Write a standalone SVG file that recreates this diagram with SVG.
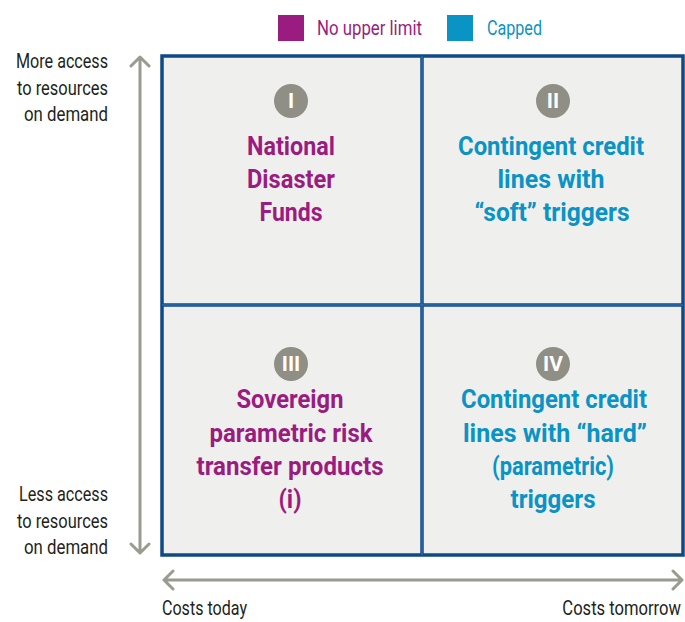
<svg xmlns="http://www.w3.org/2000/svg" width="685" height="622" viewBox="0 0 685 622">
<style>
.lbl{font-family:Roboto,"Liberation Sans",sans-serif;font-size:20px;fill:#231f20}
.leg{font-family:Roboto,"Liberation Sans",sans-serif;font-size:21px}
.q{font-family:Roboto,"Liberation Sans",sans-serif;font-size:25px;font-weight:bold;text-anchor:middle}
.p{fill:#9b1c80}
.b{fill:#0a93c5}
.num{font-family:Roboto,"Liberation Sans",sans-serif;font-size:21px;font-weight:bold;fill:#fff;text-anchor:middle}
.ax{stroke:#9a9a8f;stroke-width:3;fill:none;stroke-linecap:round;stroke-linejoin:round}
.grid{stroke:#0e4a86;stroke-width:3.5;fill:none}
.gridc{stroke:#3b79b6;stroke-width:1;fill:none}
</style>
<rect width="685" height="622" fill="#fff"/>
<g id="legend">
<rect x="278" y="15" width="26" height="26" fill="#9b1c80"/>
<text class="leg p" x="317" y="35" textLength="105" lengthAdjust="spacingAndGlyphs">No upper limit</text>
<rect x="447" y="15" width="26" height="26" fill="#0a93c5"/>
<text class="leg b" x="487" y="35" textLength="55" lengthAdjust="spacingAndGlyphs">Capped</text>
</g>
<g id="quadrants">
<rect x="161" y="55" width="523" height="501" fill="#efefed"/>
</g>
<g id="connectors">
<path class="ax" d="M140 57 V553 M131 66 L140 57 L149 66 M131 544 L140 553 L149 544"/>
<path class="ax" d="M164 580 H682 M173 571 L164 580 L173 589 M673 571 L682 580 L673 589"/>
<rect class="grid" x="162" y="56" width="521" height="499"/>
<path class="grid" d="M422 56 V555 M162 305 H683"/>
<path class="gridc" d="M422 56 V555 M162 305 H683"/>
</g>
<g id="axis-labels">
<text class="lbl" text-anchor="end" x="108" y="68" textLength="92" lengthAdjust="spacingAndGlyphs">More access</text>
<text class="lbl" text-anchor="end" x="108" y="95" textLength="91" lengthAdjust="spacingAndGlyphs">to resources</text>
<text class="lbl" text-anchor="end" x="108" y="121" textLength="84" lengthAdjust="spacingAndGlyphs">on demand</text>
<text class="lbl" text-anchor="end" x="108" y="501" textLength="89" lengthAdjust="spacingAndGlyphs">Less access</text>
<text class="lbl" text-anchor="end" x="108" y="528" textLength="91" lengthAdjust="spacingAndGlyphs">to resources</text>
<text class="lbl" text-anchor="end" x="108" y="554" textLength="84" lengthAdjust="spacingAndGlyphs">on demand</text>
<text class="lbl" x="162" y="615" textLength="85" lengthAdjust="spacingAndGlyphs">Costs today</text>
<text class="lbl" text-anchor="end" transform="translate(681,615) scale(0.83,1)" x="0" y="0">Costs tomorrow</text>
</g>
<g id="q1">
<circle cx="291" cy="101" r="17" fill="#8f8f85"/>
<text class="num" x="291" y="108">I</text>
<text class="q p" x="291" y="155" textLength="88" lengthAdjust="spacingAndGlyphs">National</text>
<text class="q p" x="291" y="188" textLength="88" lengthAdjust="spacingAndGlyphs">Disaster</text>
<text class="q p" x="291" y="221" textLength="63" lengthAdjust="spacingAndGlyphs">Funds</text>
</g>
<g id="q2">
<circle cx="553" cy="101" r="17" fill="#8f8f85"/>
<text class="num" x="553" y="108">II</text>
<text class="q b" x="551" y="155" textLength="186" lengthAdjust="spacingAndGlyphs">Contingent credit</text>
<text class="q b" x="551" y="188" textLength="107" lengthAdjust="spacingAndGlyphs">lines with</text>
<text class="q b" x="552" y="221" textLength="155" lengthAdjust="spacingAndGlyphs">“soft” triggers</text>
</g>
<g id="q3">
<circle cx="291" cy="364" r="17" fill="#8f8f85"/>
<text class="num" x="291" y="371">III</text>
<text class="q p" x="290" y="408" textLength="107" lengthAdjust="spacingAndGlyphs">Sovereign</text>
<text class="q p" x="291" y="442" textLength="163" lengthAdjust="spacingAndGlyphs">parametric risk</text>
<text class="q p" x="290" y="475" textLength="187" lengthAdjust="spacingAndGlyphs">transfer products</text>
<text class="q p" x="290" y="508" textLength="23" lengthAdjust="spacingAndGlyphs">(i)</text>
</g>
<g id="q4">
<circle cx="553" cy="364" r="17" fill="#8f8f85"/>
<text class="num" x="553" y="371">IV</text>
<text class="q b" x="554" y="408" textLength="186" lengthAdjust="spacingAndGlyphs">Contingent credit</text>
<text class="q b" x="555" y="442" textLength="184" lengthAdjust="spacingAndGlyphs">lines with “hard”</text>
<text class="q b" x="553" y="475" textLength="122" lengthAdjust="spacingAndGlyphs">(parametric)</text>
<text class="q b" x="553" y="508" textLength="85" lengthAdjust="spacingAndGlyphs">triggers</text>
</g>
</svg>
